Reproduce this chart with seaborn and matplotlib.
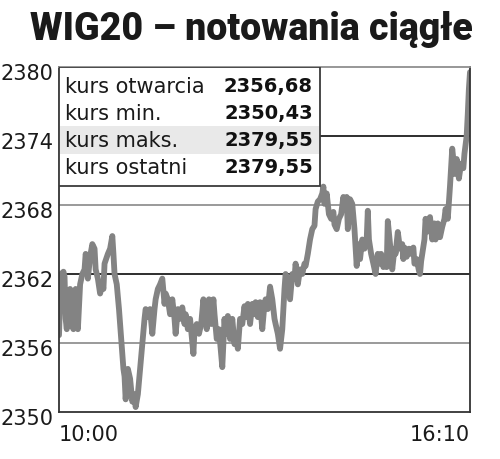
"""
Wykres notowań ciągłych WIG20 (jedna sesja) z tabelką kursów.
"""

import matplotlib
matplotlib.use("Agg")
import matplotlib.pyplot as plt
import matplotlib.transforms as mtransforms
from matplotlib.patches import Rectangle
import seaborn as sns

# --- dane ---
# minuty od 10:00
minuty = [0, 1, 2, 4, 5, 6, 7, 8, 10, 11, 13, 14, 15, 16, 17, 19, 21, 23, 24, 25,
          26, 28, 30, 32, 33, 35, 37, 39, 40, 41, 44, 46, 48, 49, 50, 52, 54, 56, 58, 59,
          60, 62, 64, 66, 68, 69, 71, 73, 75, 77, 78, 80, 82, 84, 86, 87, 89, 91, 93, 95,
          96, 98, 100, 102, 104, 105, 107, 109, 111, 113, 114, 116, 118, 121, 122, 124, 126, 128, 130, 131,
          133, 135, 137, 139, 140, 142, 144, 147, 149, 150, 152, 154, 156, 158, 159, 161, 163, 165, 167, 168,
          170, 172, 174, 176, 177, 179, 181, 183, 185, 186, 188, 190, 192, 194, 195, 197, 199, 201, 203, 204,
          206, 208, 210, 212, 213, 215, 217, 219, 221, 222, 224, 226, 228, 230, 231, 233, 235, 237, 238, 239,
          241, 243, 245, 247, 248, 250, 252, 254, 256, 257, 259, 260, 262, 264, 266, 268, 269, 271, 273, 275,
          277, 278, 279, 281, 283, 285, 287, 288, 290, 292, 294, 295, 296, 298, 300, 302, 303, 305, 307, 309,
          310, 311, 313, 315, 317, 319, 320, 322, 324, 325, 326, 329, 330, 332, 334, 336, 338, 339, 341, 343,
          345, 347, 348, 350, 352, 354, 355, 356, 358, 360, 362, 364, 365, 367, 368, 369, 370]
kurs = [2356.68, 2359.8, 2362.0, 2362.2, 2361.75, 2358.1, 2357.2, 2360.3, 2360.7, 2357.65,
        2357.2, 2359.8, 2360.7, 2358.1, 2357.2, 2361.1, 2362.0, 2362.4, 2363.75, 2363.3,
        2361.6, 2363.5, 2364.6, 2364.2, 2362.4, 2361.6, 2360.3, 2361.1, 2360.7, 2362.9,
        2363.75, 2364.2, 2365.3, 2363.75, 2362.0, 2361.1, 2358.95, 2356.35, 2353.75, 2353.1,
        2351.1, 2353.75, 2352.9, 2350.9, 2351.55, 2350.43, 2351.55, 2353.75, 2355.9, 2358.1,
        2358.95, 2358.25, 2358.95, 2356.8, 2358.95, 2359.8, 2360.7, 2361.1, 2361.6, 2359.4,
        2360.3, 2359.8, 2358.5, 2359.8, 2358.1, 2356.8, 2358.95, 2358.1, 2359.1, 2357.65,
        2358.5, 2357.2, 2358.1, 2355.05, 2357.2, 2357.65, 2356.8, 2357.65, 2359.8, 2358.95,
        2357.2, 2359.8, 2357.65, 2359.8, 2358.5, 2356.35, 2357.2, 2353.9, 2358.1, 2356.8,
        2358.35, 2356.35, 2358.1, 2355.9, 2356.8, 2355.5, 2358.1, 2357.65, 2359.2, 2358.25,
        2359.4, 2357.65, 2359.4, 2358.5, 2359.55, 2358.25, 2359.55, 2357.2, 2359.4, 2359.8,
        2358.95, 2360.9, 2359.8, 2358.1, 2357.65, 2356.8, 2355.5, 2357.2, 2360.7, 2362.0,
        2361.1, 2359.8, 2362.0, 2361.6, 2362.9, 2361.1, 2362.4, 2362.0, 2362.9, 2362.7,
        2363.75, 2365.0, 2365.9, 2366.2, 2367.65, 2368.3, 2368.5, 2369.0, 2369.6, 2368.1,
        2369.0, 2367.2, 2366.8, 2367.4, 2366.3, 2365.9, 2366.8, 2367.2, 2368.7, 2368.1,
        2368.7, 2365.9, 2368.5, 2368.1, 2365.9, 2362.7, 2364.6, 2363.3, 2365.0, 2364.2,
        2365.0, 2367.5, 2365.0, 2363.75, 2362.9, 2362.0, 2363.75, 2362.9, 2363.75, 2362.6,
        2363.5, 2362.6, 2366.6, 2364.6, 2362.4, 2364.2, 2363.75, 2365.65, 2364.2, 2364.6,
        2363.3, 2364.3, 2363.5, 2364.2, 2363.75, 2364.3, 2362.9, 2363.3, 2362.3, 2362.0,
        2363.1, 2365.0, 2366.8, 2365.7, 2366.95, 2365.0, 2366.4, 2365.0, 2366.4, 2365.2,
        2366.1, 2366.8, 2367.65, 2366.8, 2369.65, 2372.9, 2372.0, 2370.7, 2372.0, 2370.3,
        2371.6, 2371.2, 2372.45, 2374.0, 2375.9, 2378.1, 2379.55]

poziomy_y = [2350, 2356, 2362, 2368, 2374, 2380]
pozycje_x = [0, 370]
etykiety_x = ["10:00", "16:10"]

tabela_nazwy = ["kurs otwarcia", "kurs min.", "kurs maks.", "kurs ostatni"]
tabela_wartosci = ["2356,68", "2350,43", "2379,55", "2379,55"]

sns.set_theme(style="white")
plt.rcParams["font.family"] = ["DejaVu Sans"]

fig = plt.figure(figsize=(5, 4.6), dpi=100)
ax = fig.add_axes([59 / 500, 47 / 460, 411 / 500, 345 / 460])

# linie siatki - na przemian szare i ciemne
for i, poziom in enumerate(poziomy_y[1:-1]):
    kolor = "#2e2e2e" if i % 2 else "#9a9a9a"
    ax.axhline(poziom, color=kolor, lw=1.4, zorder=1)

sns.lineplot(x=minuty, y=kurs, ax=ax, color="#838383", linewidth=4.2,
             estimator=None, sort=False, zorder=2)

ax.set_xlim(pozycje_x[0], pozycje_x[-1])
ax.set_ylim(poziomy_y[0], poziomy_y[-1])

for nazwa, spine in ax.spines.items():
    spine.set_visible(True)
    spine.set_linewidth(1.3)
    spine.set_color("#8f8f8f" if nazwa == "top" else "#333333")

ax.set_yticks(poziomy_y)
ax.set_yticklabels([str(v) for v in poziomy_y], fontsize=15, color="#1a1a1a")
ax.set_xticks(pozycje_x)
ax.set_xticklabels(etykiety_x, fontsize=15, color="#1a1a1a")
ax.tick_params(axis="y", length=0, pad=4)
ax.tick_params(axis="x", length=0, pad=9)

przesuniecie = mtransforms.ScaledTranslation(0, -4 / 100, fig.dpi_scale_trans)
for lab in ax.get_yticklabels():
    lab.set_transform(lab.get_transform() + przesuniecie)
xlabs = ax.get_xticklabels()
xlabs[0].set_ha("left")
xlabs[-1].set_ha("right")

# tabelka z kursami
ax.add_patch(Rectangle((0, 0.655), 0.635, 0.345, transform=ax.transAxes,
                       facecolor="white", edgecolor="#3a3a3a", lw=1.3, zorder=3))
ax.add_patch(Rectangle((0.003, 0.748), 0.629, 0.081, transform=ax.transAxes,
                       facecolor="#e9e9e9", lw=0, zorder=3.5))
for i, (nazwa, wartosc) in enumerate(zip(tabela_nazwy, tabela_wartosci)):
    y = 0.945 - i * 0.078
    ax.text(0.015, y, nazwa, transform=ax.transAxes, fontsize=15,
            color="#1a1a1a", va="center", ha="left", zorder=4)
    ax.text(0.618, y, wartosc, transform=ax.transAxes, fontsize=14,
            fontweight="heavy", color="#111111", va="center", ha="right", zorder=4)

fig.text(0.502, 1 - 40 / 460, "WIG20 – notowania ciągłe", ha="center",
         va="baseline", fontsize=27, fontweight=900, color="#1a1a1a",
         family=["Roboto", "DejaVu Sans"])

fig.savefig("out.png", dpi=100, facecolor="white")
